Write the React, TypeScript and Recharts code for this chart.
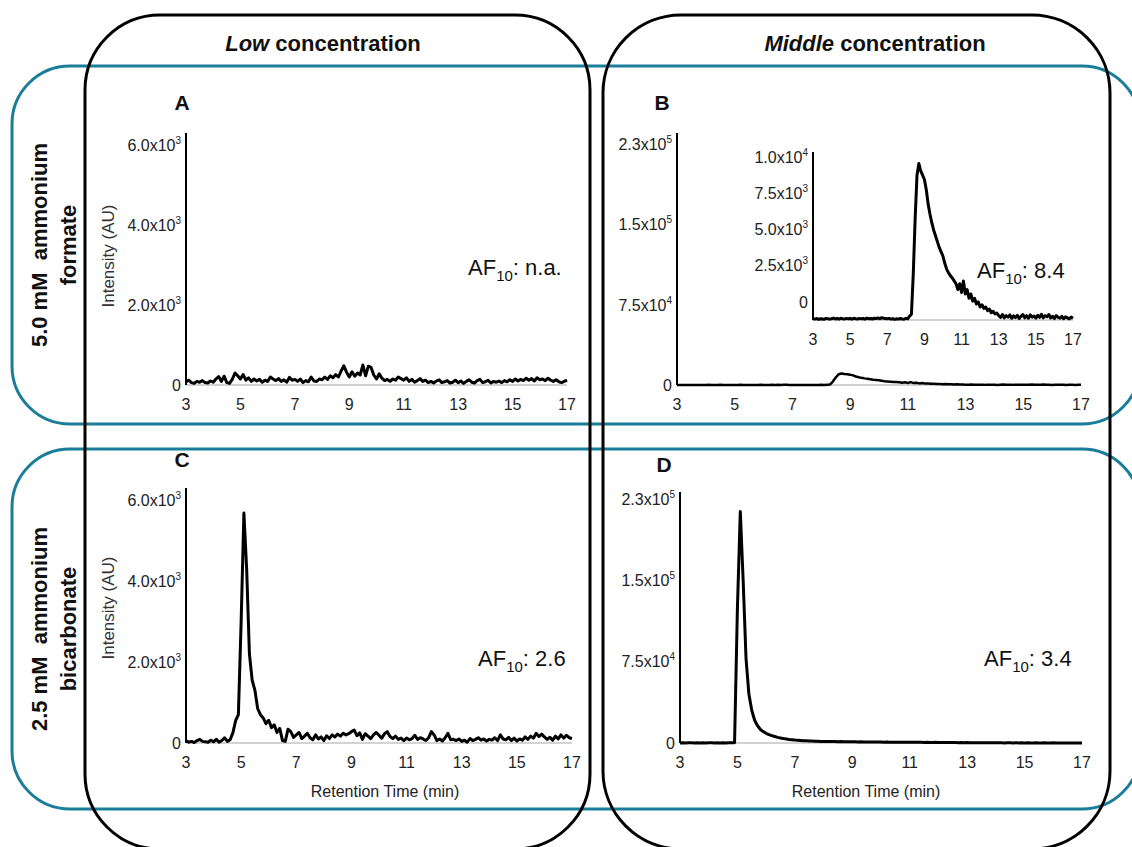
import { LineChart, Line, XAxis, YAxis, ReferenceLine } from "recharts";

const FONT = "'Liberation Sans', Arial, Helvetica, sans-serif";
const TEAL = "#1a7d99";

// retention time grid: 3.0 to 17.0 min, one reading every 0.1 min
const startMin = 3;
const stepMin = 0.1;
const xTicks = [3, 5, 7, 9, 11, 13, 15, 17];

// A: low concentration, 5.0 mM ammonium formate
const lowFormate = [
  80, 120, 60, 40, 90, 70, 110, 60, 50, 100,
  70, 150, 210, 90, 220, 60, 40, 140, 300, 230,
  150, 260, 120, 180, 90, 150, 100, 140, 70, 120,
  90, 200, 150, 110, 160, 90, 130, 70, 190, 120,
  140, 90, 150, 60, 110, 80, 200, 100, 90, 150,
  130, 200, 140, 230, 180, 260, 200, 350, 480, 320,
  200, 330, 220, 300, 250, 500, 230, 470, 440, 250,
  150, 280, 170, 110, 140, 90, 150, 120, 200, 160,
  120, 180, 90, 140, 70, 110, 160, 90, 120, 60,
  90, 50, 100, 130, 60, 80, 110, 50, 70, 120,
  60, 100, 40, 90, 130, 70, 50, 110, 140, 60,
  80, 120, 50, 90, 70, 100, 60, 110, 80, 130,
  90, 150, 100, 140, 110, 170, 120, 160, 100, 180,
  130, 150, 110, 170, 120, 90, 130, 80, 60, 90,
  120,
];

// B: middle concentration, 5.0 mM ammonium formate (main plot and inset)
const midFormate = [
  80, 60, 100, 40, 90, 70, 50, 110, 80, 60,
  90, 130, 70, 100, 60, 120, 90, 70, 110, 80,
  100, 60, 120, 90, 70, 110, 80, 100, 60, 130,
  90, 110, 70, 120, 100, 140, 90, 160, 120, 100,
  80, 110, 60, 90, 40, 80, 60, 100, 70, 50,
  120, 80, 260, 400, 3200, 7000, 10000, 10800, 10300, 10000,
  9700, 9000, 8000, 7300, 6700, 6200, 5800, 5400, 5000, 4700,
  4400, 3900, 3500, 3250, 3050, 2900, 2700, 2500, 2100, 2500,
  1900, 2700, 1800, 2100, 1500, 1800, 1300, 1500, 1100, 1250,
  900, 1050, 800, 900, 650, 750, 500, 600, 420, 480,
  300, 180, 380, 150, 300, 200, 350, 120, 280, 170,
  320, 100, 250, 380, 150, 300, 120, 350, 200, 280,
  130, 330, 180, 400, 150, 300, 220, 380, 140, 260,
  100, 300, 180, 120, 250, 90, 220, 150, 80, 200,
  120,
];

// C: low concentration, 2.5 mM ammonium bicarbonate
const lowBicarb = [
  50, 20, 40, 10, 60, 90, 40, 30, 20, 70,
  30, 90, 20, 60, 130, 40, 80, 250, 550, 700,
  3000, 5680, 4300, 2200, 1550, 1300, 850, 700, 620, 480,
  560, 380, 450, 260, 360, 60, 40, 340, 280, 140,
  200, 260, 110, 170, 240, 130, 80, 200, 100, 150,
  60, 180, 110, 200, 150, 220, 170, 240, 200, 230,
  280, 320, 180, 250, 90, 230, 170, 110, 200, 260,
  190, 120, 230, 280, 160, 110, 170, 90, 120, 60,
  120, 80, 110, 190, 90, 130, 100, 60, 130, 280,
  200, 60, 100, 50, 130, 240, 80, 90, 60, 100,
  40, 70, 20, 110, 60, 90, 130, 70, 100, 50,
  90, 70, 130, 60, 200, 100, 80, 140, 60, 120,
  50, 100, 70, 150, 90, 170, 120, 240, 160, 220,
  150, 90, 140, 70, 170, 100, 200, 120, 190, 130,
  110,
];

// D: middle concentration, 2.5 mM ammonium bicarbonate
const midBicarb = [
  0, 200, 100, 300, 150, 0, 250, 100, 200, 50,
  150, 300, 100, 200, 0, 250, 100, 200, 300, 300,
  125000, 214000, 150000, 78000, 45000, 30000, 21000, 16000, 12500, 10500,
  9000, 7800, 6800, 6000, 5200, 4600, 4100, 3700, 3300, 3000,
  2700, 2500, 2300, 2100, 2000, 1900, 1800, 1700, 1600, 1500,
  1500, 1400, 1400, 1300, 1300, 1200, 1300, 1200, 1100, 1200,
  1100, 1100, 1000, 1100, 1000, 1000, 900, 1000, 900, 900,
  900, 800, 900, 800, 800, 700, 800, 700, 700, 800,
  700, 600, 700, 600, 600, 500, 600, 500, 500, 600,
  500, 400, 500, 400, 500, 400, 400, 300, 400, 300,
  400, 300, 300, 200, 300, 300, 200, 300, 200, 200,
  300, 200, 200, 100, 200, 200, 100, 200, 100, 200,
  100, 200, 100, 100, 200, 100, 100, 200, 100, 100,
  200, 100, 100, 100, 0, 100, 100, 0, 100, 100,
  100,
];

const yTicksLow = [0, 2000, 4000, 6000];
const yLabelsLow = ["0", "2.0x10^3", "4.0x10^3", "6.0x10^3"];
const yTicksMid = [0, 75000, 150000, 225000];
const yLabelsMid = ["0", "7.5x10^4", "1.5x10^5", "2.3x10^5"];
const yTicksInset = [0, 2500, 5000, 7500, 10000];
const yLabelsInset = ["0", "2.5x10^3", "5.0x10^3", "7.5x10^3", "1.0x10^4"];

const toRows = (vals: number[]) =>
  vals.map((v, i) => ({ t: +(startMin + i * stepMin).toFixed(2), v }));

const YTick = ({ x, y, payload, ticks, labels, shift }: any) => {
  const i = ticks.indexOf(payload.value);
  const [m, e] = (labels[i] ?? String(payload.value)).split("^");
  return (
    <text x={x} y={y + shift} dy="0.35em" textAnchor="end" fontSize={16} fill="#222" fontFamily={FONT}>
      {m}
      {e && (
        <tspan dy={-7} fontSize={10}>
          {e}
        </tspan>
      )}
    </text>
  );
};

interface PanelProps {
  values: number[];
  left: number;
  right: number;
  top: number;
  bottom: number;
  yMax: number;
  yTicks: number[];
  yLabels: string[];
  labelShift?: number;
  strokeWidth?: number;
}

const Panel = ({ values, left, right, top, bottom, yMax, yTicks, yLabels, labelShift = 0, strokeWidth = 3 }: PanelProps) => {
  const padL = 90, padR = 20, padT = 20, padB = 40;
  return (
    <div style={{ position: "absolute", left: left - padL, top: top - padT }}>
      <LineChart
        width={right - left + padL + padR}
        height={bottom - top + padT + padB}
        data={toRows(values)}
        margin={{ top: padT, right: padR, left: 0, bottom: 0 }}
      >
        <XAxis
          type="number"
          dataKey="t"
          domain={[3, 17]}
          ticks={xTicks}
          interval={0}
          height={padB}
          axisLine={false}
          tickLine={false}
          tickSize={0}
          tickMargin={14}
          tick={{ fontSize: 16, fill: "#222", fontFamily: FONT }}
        />
        <YAxis
          type="number"
          domain={[0, yMax]}
          ticks={yTicks}
          interval={0}
          width={padL}
          axisLine={{ stroke: "#000", strokeWidth: 2 }}
          tickLine={false}
          tickSize={0}
          tickMargin={5}
          tick={(props: any) => <YTick {...props} ticks={yTicks} labels={yLabels} shift={labelShift} />}
        />
        <ReferenceLine y={0} stroke="#c4c4c4" strokeWidth={1.5} />
        <Line
          type="linear"
          dataKey="v"
          stroke="#000"
          strokeWidth={strokeWidth}
          strokeLinejoin="round"
          dot={false}
          isAnimationActive={false}
        />
      </LineChart>
    </div>
  );
};

const AF = ({ x, y, value }: { x: number; y: number; value: string }) => (
  <text x={x} y={y} fontSize={22} fill="#111" fontFamily={FONT}>
    AF
    <tspan dy={6} fontSize={15}>10</tspan>
    <tspan dy={-6}>{": " + value}</tspan>
  </text>
);

const RowLabel = ({ y, line1, line2 }: { y: number; line1: string; line2: string }) => (
  <g fontSize={22} fontWeight="bold" fontFamily={FONT} fill="#111" textAnchor="middle">
    <text x={39} y={y} dy="0.35em" transform={`rotate(-90, 39, ${y})`} xmlSpace="preserve" style={{ whiteSpace: "pre" }}>
      {line1}
    </text>
    <text x={68} y={y} dy="0.35em" transform={`rotate(-90, 68, ${y})`}>
      {line2}
    </text>
  </g>
);

const App = () => {
  return (
    <div style={{ position: "absolute", left: 0, top: 0, width: 1132, height: 847, background: "#fff", overflow: "hidden" }}>
      <Panel values={lowFormate} left={186} right={567} top={133} bottom={385} yMax={6300} yTicks={yTicksLow} yLabels={yLabelsLow} />
      <Panel values={midFormate} left={677} right={1081} top={133} bottom={385} yMax={236000} yTicks={yTicksMid} yLabels={yLabelsMid} strokeWidth={2.5} />
      <Panel values={midFormate} left={813} right={1073} top={152} bottom={320} yMax={11600} yTicks={yTicksInset} yLabels={yLabelsInset} labelShift={-18} />
      <Panel values={lowBicarb} left={186} right={572} top={488} bottom={743} yMax={6300} yTicks={yTicksLow} yLabels={yLabelsLow} />
      <Panel values={midBicarb} left={680} right={1082} top={492} bottom={743} yMax={232000} yTicks={yTicksMid} yLabels={yLabelsMid} />

      <svg width={1132} height={847} style={{ position: "absolute", left: 0, top: 0, pointerEvents: "none" }}>
        <rect x={12} y={66} width={1128} height={358} rx={58} fill="none" stroke={TEAL} strokeWidth={3} />
        <rect x={12} y={449} width={1128} height={360} rx={58} fill="none" stroke={TEAL} strokeWidth={3} />
        <rect x={85} y={15} width={505} height={834} rx={75} fill="none" stroke="#000" strokeWidth={3} />
        <rect x={603} y={15} width={507} height={834} rx={78} fill="none" stroke="#000" strokeWidth={3} />

        <text x={323} y={51} textAnchor="middle" fontSize={22} fontWeight="bold" fontFamily={FONT} fill="#111">
          <tspan fontStyle="italic">Low</tspan> concentration
        </text>
        <text x={875} y={51} textAnchor="middle" fontSize={22} fontWeight="bold" fontFamily={FONT} fill="#111">
          <tspan fontStyle="italic">Middle</tspan> concentration
        </text>

        <RowLabel y={245} line1="5.0 mM  ammonium" line2="formate" />
        <RowLabel y={629} line1="2.5 mM  ammonium" line2="bicarbonate" />

        <g fontSize={21} fontWeight="bold" fontFamily={FONT} fill="#111" textAnchor="middle">
          <text x={182} y={110}>A</text>
          <text x={662} y={110}>B</text>
          <text x={182} y={467}>C</text>
          <text x={664} y={472}>D</text>
        </g>

        <g fontSize={17} fontFamily={FONT} fill="#333" textAnchor="middle">
          <text x={108} y={256} dy="0.35em" transform="rotate(-90, 108, 256)">Intensity (AU)</text>
          <text x={108} y={608} dy="0.35em" transform="rotate(-90, 108, 608)">Intensity (AU)</text>
        </g>
        <g fontSize={16} fontFamily={FONT} fill="#222" textAnchor="middle">
          <text x={385} y={797}>Retention Time (min)</text>
          <text x={866} y={797}>Retention Time (min)</text>
        </g>

        <AF x={468} y={275} value="n.a." />
        <AF x={977} y={278} value="8.4" />
        <AF x={478} y={666} value="2.6" />
        <AF x={984} y={666} value="3.4" />
      </svg>
    </div>
  );
};

export default App;
